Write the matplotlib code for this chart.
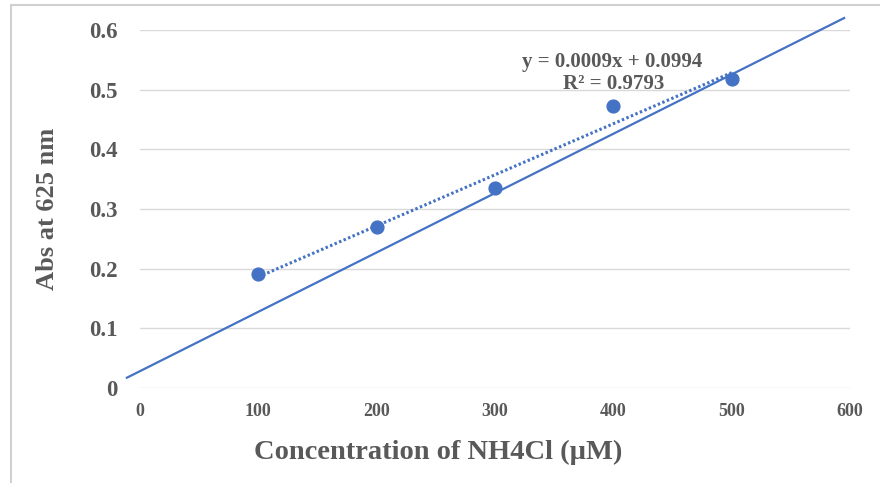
import numpy as np
import matplotlib.pyplot as plt

# measured points
conc = [100, 200, 300, 400, 500]
absorb = [0.191, 0.270, 0.335, 0.472, 0.518]

# solid reference line (end points)
ref_x = [-11, 595]
ref_y = [0.017, 0.62]

x_ticks = [0, 100, 200, 300, 400, 500, 600]
y_ticks = [0, 0.1, 0.2, 0.3, 0.4, 0.5, 0.6]
y_labels = ['0', '0.1', '0.2', '0.3', '0.4', '0.5', '0.6']

blue = '#4472C4'
grey = '#595959'
font = 'Liberation Serif'

fig = plt.figure(figsize=(8.8, 4.83), dpi=100)
ax = fig.add_axes([0.159, 0.197, 0.807, 0.741])

# outer chart border
fig.patches.append(plt.Rectangle((0.012, -0.01), 1.0, 1.0, transform=fig.transFigure,
                                 fill=False, edgecolor='#d0d0d0', lw=1.5))

ax.plot(ref_x, ref_y, color=blue, lw=1.6, clip_on=False, zorder=3)

# linear trend of the measured points
k, b = np.polyfit(conc, absorb, 1)
fx = np.array([conc[0], conc[-1]])
ax.plot(fx, k * fx + b, color=blue, lw=2.2, ls=(0, (0.8, 0.8)), zorder=3)

ax.scatter(conc, absorb, s=85, color=blue, zorder=4, clip_on=False)

ax.text(399, 0.546, 'y = 0.0009x + 0.0994', ha='center', va='center',
        fontsize=15, fontweight='bold', color=grey, family=font)
ax.text(400, 0.509, 'R² = 0.9793', ha='center', va='center',
        fontsize=15, fontweight='bold', color=grey, family=font)

ax.set_xlim(0, 600)
ax.set_ylim(0, 0.6)
ax.set_xticks(x_ticks)
ax.set_yticks(y_ticks)
ax.set_yticklabels(y_labels)
for sp in ax.spines.values():
    sp.set_visible(False)
ax.grid(axis='y', color='#d9d9d9', lw=1)
ax.set_axisbelow(True)
ax.tick_params(length=0)
ax.tick_params(axis='y', pad=16, labelsize=16.5, labelcolor=grey)
ax.tick_params(axis='x', pad=11, labelsize=13, labelcolor=grey)
for lab in ax.get_xticklabels() + ax.get_yticklabels():
    lab.set_fontfamily(font)
    lab.set_fontweight('bold')

ax.set_xlabel('Concentration of NH4Cl (µM)', fontsize=20.5, fontweight='bold',
              color=grey, family=font)
ax.set_ylabel('Abs at 625 nm', fontsize=19, fontweight='bold', color=grey,
              family=font)
ax.xaxis.set_label_coords(0.42, -0.145)
ax.yaxis.set_label_coords(-0.114, 0.5)

fig.savefig('out.png', dpi=100)
